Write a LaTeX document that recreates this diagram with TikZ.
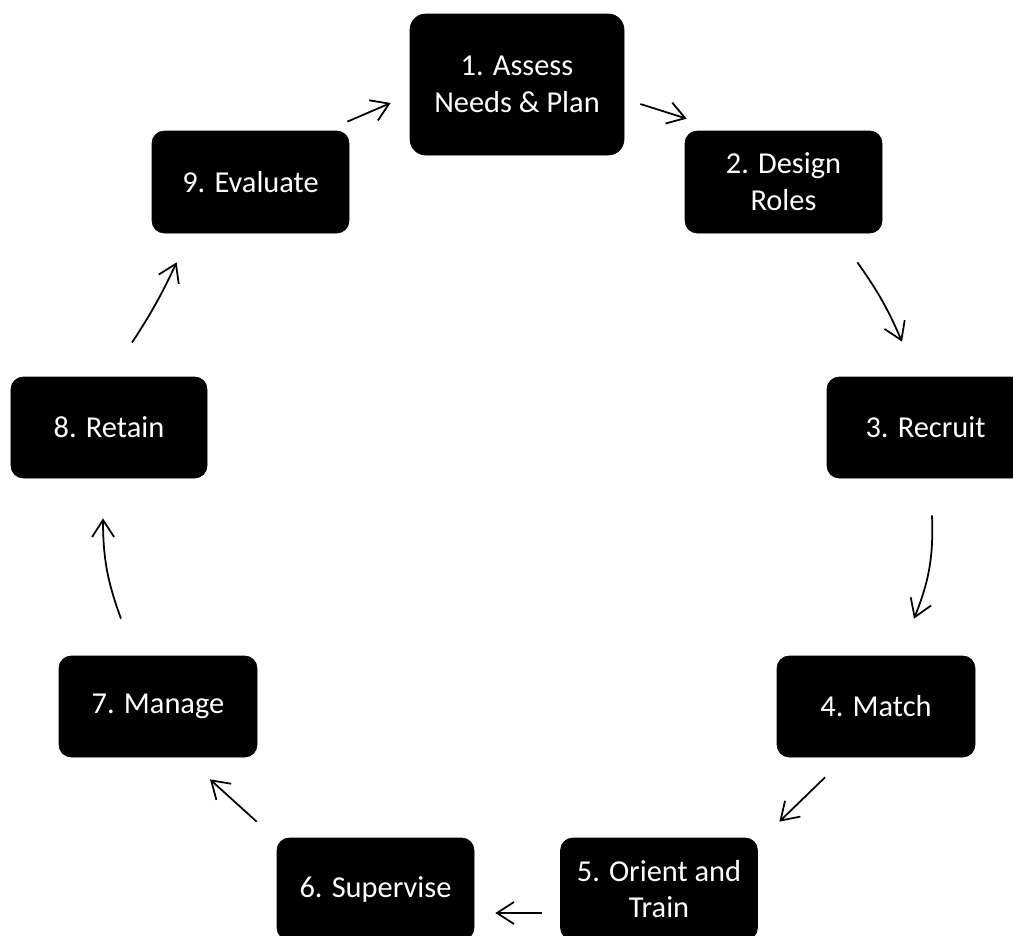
\documentclass[tikz,border=0pt]{standalone}
\usepackage{fontspec}
\setmainfont{Carlito}
\usetikzlibrary{arrows.meta, calc}

\begin{document}
\begin{tikzpicture}[
  stage/.style={draw=black, fill=black, rounded corners=7pt, text=white, align=center,
    minimum width=3.94cm, minimum height=2.04cm, inner sep=0pt,
    font=\fontsize{17.3}{21}\selectfont},
  flow/.style={-{Straight Barb[length=0.34cm, width=0.44cm]}, line width=1pt}
]
  \useasboundingbox (0,0) rectangle (20.26,-18.70);

  % Stages of the cycle
  \node[stage, minimum width=4.28cm, minimum height=2.82cm, rounded corners=9pt] (n1) at (10.34, -1.69) {1. Assess\\Needs \& Plan};
  \node[stage] (n2) at (15.67, -3.64) {2. Design\\Roles};
  \node[stage, minimum height=2.02cm] (n3) at (18.51, -8.55) {3. Recruit};
  \node[stage, minimum width=3.96cm, minimum height=2.02cm] (n4) at (17.52, -14.13) {4. Match};
  \node[stage] (n5) at (13.18, -17.78) {5. Orient and\\Train};
  \node[stage] (n6) at (7.51, -17.78) {6. Supervise};
  \node[stage, minimum width=3.96cm, minimum height=2.02cm] (n7) at (3.16, -14.13) {7. Manage};
  \node[stage, minimum width=3.92cm, minimum height=2.02cm] (n8) at (2.18, -8.55) {8. Retain};
  \node[stage] (n9) at (5.01, -3.64) {9. Evaluate};

  % Arrows round the cycle
  \draw[flow] ($(n1.east)+(0.32,-0.39)$) -- ($(n2.north west)+(0.04,0.24)$);
  \draw[flow] ($(n2.south east)+(-0.50,-0.58)$) to[bend left=6] ($(n3.north)+(-0.47,0.70)$);
  \draw[flow] ($(n3.south)+(0.13,-0.74)$) to[bend left=12] ($(n4.north)+(0.76,0.74)$);
  \draw[flow] ($(n4.south)+(-1.02,-0.40)$) -- ($(n5.north east)+(0.43,0.32)$);
  \draw[flow] ($(n5.west)+(-0.37,-0.48)$) -- ($(n6.east)+(0.42,-0.48)$);
  \draw[flow] ($(n6.north west)+(-0.40,0.32)$) -- ($(n7.south)+(1.04,-0.44)$);
  \draw[flow] ($(n7.north)+(-0.74,0.74)$) to[bend left=10] ($(n8.south)+(-0.12,-0.80)$);
  \draw[flow] ($(n8.north)+(0.46,0.68)$) to[bend right=4] ($(n9.south west)+(0.50,-0.58)$);
  \draw[flow] ($(n9.north east)+(-0.04,0.18)$) -- ($(n1.west)+(-0.38,-0.37)$);
\end{tikzpicture}
\end{document}
